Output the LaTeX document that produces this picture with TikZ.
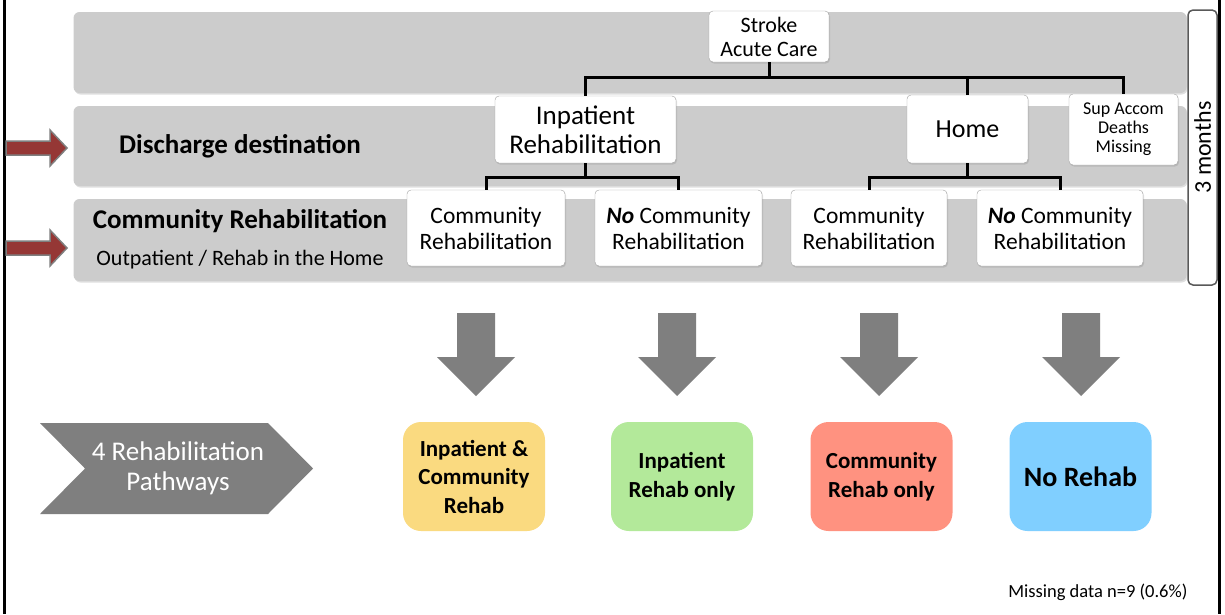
\documentclass[tikz,border=0pt]{standalone}
\usepackage{fontspec}
\setmainfont{Carlito}
\usetikzlibrary{positioning, calc, shadows}
\definecolor{bandcolor}{RGB}{204,204,204}
\definecolor{edgecolor}{RGB}{160,160,160}
\definecolor{arrowgray}{RGB}{127,127,127}
\definecolor{redarrow}{RGB}{149,55,53}
\definecolor{monthsedge}{RGB}{89,89,89}
\definecolor{bothcolor}{RGB}{250,218,128}
\definecolor{inpatcolor}{RGB}{179,233,154}
\definecolor{commcolor}{RGB}{255,146,128}
\definecolor{norehabcolor}{RGB}{128,207,255}

\begin{document}
\begin{tikzpicture}[
    x=1pt, y=-1pt,
    band/.style={fill=bandcolor, rounded corners=6pt, minimum width=1113pt, inner sep=0pt,
        drop shadow={opacity=0.25, shadow xshift=1pt, shadow yshift=-1.5pt}},
    box/.style={draw=edgecolor, fill=white, rounded corners=4pt, align=center, inner sep=2pt,
        drop shadow={opacity=0.25, shadow xshift=1pt, shadow yshift=-1.5pt}},
    pathbox/.style={rounded corners=18pt, align=center, minimum width=142pt, minimum height=109pt,
        font={\fontsize{23}{28.5}\selectfont\bfseries}},
    tree/.style={line width=3pt},
    rowtitle/.style={font={\fontsize{27}{30}\selectfont\bfseries}},
    sidearrow/.style={fill=redarrow, draw=arrowgray, line width=1.5pt, line join=miter}
]
    % frame and background
    \useasboundingbox[fill=white] (0,0) rectangle (1225,614);
    \draw[line width=3pt] (4.5,0) -- (4.5,614);
    \draw[line width=3pt] (1219.5,0) -- (1219.5,614);

    % bands
    \node[band, minimum height=81pt] (band1) at (630,52.5) {};
    \node[band, minimum height=80pt] (band2) at (630,146) {};
    \node[band, minimum height=82pt] (band3) at (630,240) {};
    \node[draw=monthsedge, fill=white, line width=1.5pt, rounded corners=5pt,
        minimum width=29pt, minimum height=275pt] (months) at (1202.5,147.5) {};
    \node[rotate=90, font={\fontsize{24}{28}\selectfont}] at (months.center) {3 months};

    % row titles
    \node[rowtitle] (dischg) at (240,146) {Discharge destination};
    \node[rowtitle] (commrow) at (240,221) {Community Rehabilitation};
    \node[font={\fontsize{22}{26}\selectfont}] (outpat) at (240,260) {Outpatient / Rehab in the Home};

    % red pointers
    \path[sidearrow] (6,141) -- (50,141) -- (50,130) -- (67,148) -- (50,166) -- (50,155) -- (6,155) -- cycle;
    \path[sidearrow] (6,241) -- (50,241) -- (50,230) -- (67,248) -- (50,266) -- (50,255) -- (6,255) -- cycle;

    % tree nodes
    \node[box, minimum width=120pt, minimum height=51pt, font={\fontsize{22}{24}\selectfont}] (stroke) at (769,36.5) {Stroke\\Acute Care};
    \node[box, minimum width=181pt, minimum height=67pt, font={\fontsize{27}{29}\selectfont}] (inpat) at (585.5,129.5) {Inpatient\\Rehabilitation};
    \node[box, minimum width=121pt, minimum height=68pt, font={\fontsize{26}{29}\selectfont}] (home) at (967.5,129) {Home};
    \node[box, minimum width=109pt, minimum height=71pt, font={\fontsize{18}{19}\selectfont}] (sup) at (1123.5,129.5) {Sup Accom\\Deaths\\Missing};
    \node[box, minimum width=158pt, minimum height=76pt, font={\fontsize{23.5}{26}\selectfont}] (ipcomm) at (486,228) {Community\\Rehabilitation};
    \node[box, minimum width=167pt, minimum height=76pt, font={\fontsize{23.5}{26}\selectfont}] (ipnocomm) at (678.5,228) {\textbf{\textit{No}} Community\\Rehabilitation};
    \node[box, minimum width=156pt, minimum height=76pt, font={\fontsize{23.5}{26}\selectfont}] (hmcomm) at (869,228) {Community\\Rehabilitation};
    \node[box, minimum width=166pt, minimum height=76pt, font={\fontsize{23.5}{26}\selectfont}] (hmnocomm) at (1060,228) {\textbf{\textit{No}} Community\\Rehabilitation};

    % tree connectors
    \draw[tree] (stroke.south) -- ($(stroke.south)+(0,15.5)$);
    \draw[tree] (inpat.north) |- ($(stroke.south)+(0,15.5)$) -| (sup.north);
    \draw[tree] (home.north) -- ($(home.north)+(0,-17)$);
    \draw[tree] (inpat.south) -- ($(inpat.south)+(0,14)$);
    \draw[tree] (ipcomm.north) |- ($(inpat.south)+(0,14)$) -| (ipnocomm.north);
    \draw[tree] (home.south) -- ($(home.south)+(0,14)$);
    \draw[tree] (hmcomm.north) |- ($(home.south)+(0,14)$) -| (hmnocomm.north);

    % down arrows
    \foreach \cx in {476,677,879,1081}
        \fill[arrowgray] (\cx-19,313) -- (\cx+19,313) -- (\cx+19,357) -- (\cx+39,357)
            -- (\cx,396) -- (\cx-39,357) -- (\cx-19,357) -- cycle;

    % pathways
    \fill[arrowgray] (40,423) -- (268,423) -- (313,468.5) -- (268,514) -- (40,514) -- (85,468.5) -- cycle;
    \node[text=white, align=center, font={\fontsize{27}{30}\selectfont}] (pathways) at (178,468) {4 Rehabilitation\\Pathways};

    \node[pathbox, fill=bothcolor] (both) at (474,476.5) {Inpatient \&\\Community\\Rehab};
    \node[pathbox, fill=inpatcolor] (inonly) at (682,476.5) {Inpatient\\Rehab only};
    \node[pathbox, fill=commcolor] (commonly) at (881.5,476.5) {Community\\Rehab only};
    \node[pathbox, fill=norehabcolor, font={\fontsize{28}{30}\selectfont\bfseries}] (norehab) at (1080.5,476.5) {No Rehab};

    \node[font={\fontsize{18.5}{20}\selectfont}, anchor=east] (missing) at (1191,592) {Missing data n=9 (0.6\%)};
\end{tikzpicture}
\end{document}
